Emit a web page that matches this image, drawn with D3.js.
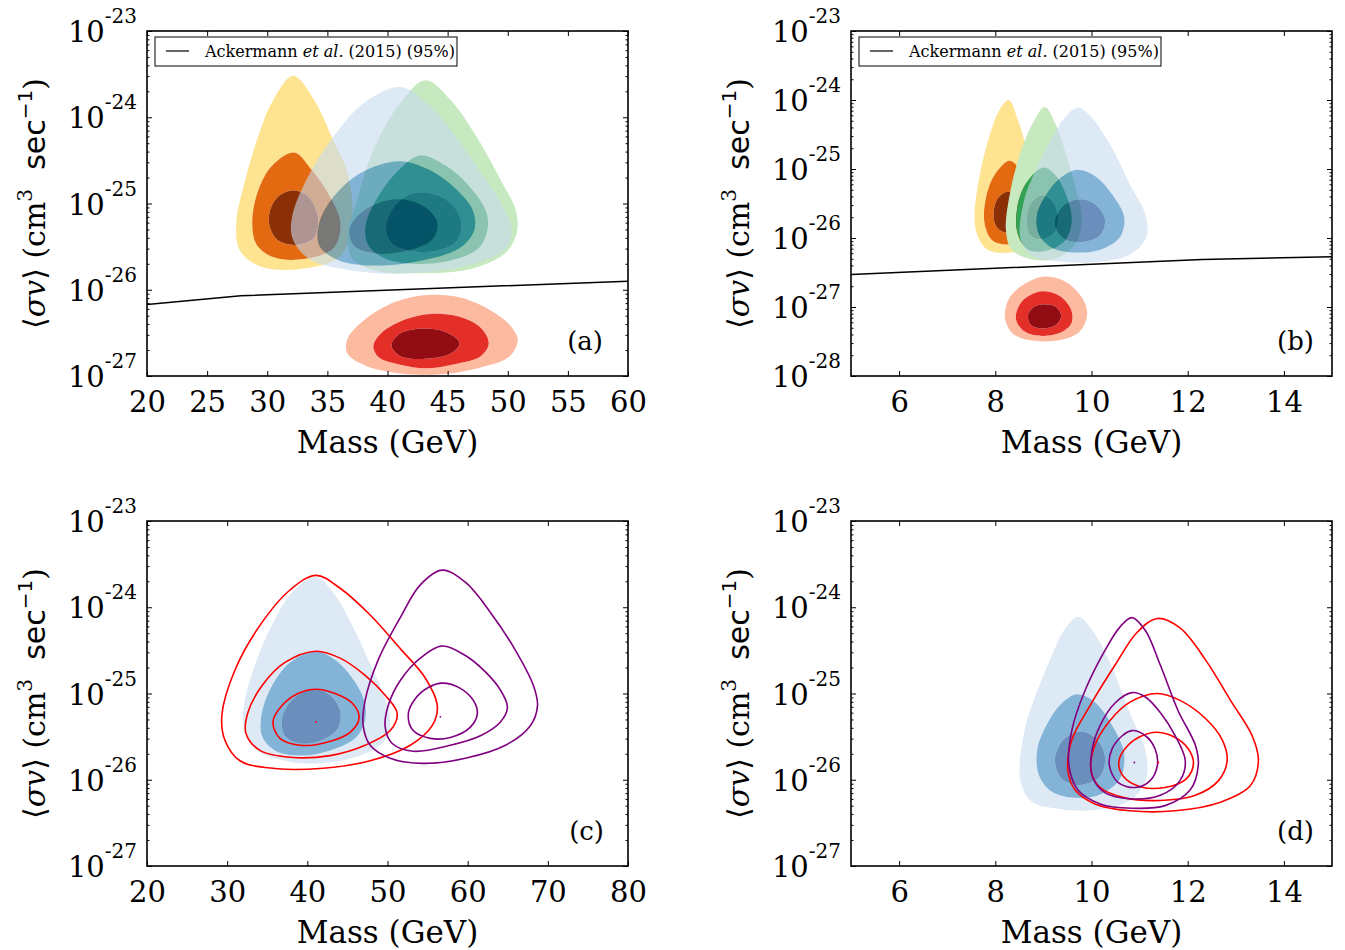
<!DOCTYPE html>
<html>
<head>
<meta charset="utf-8">
<script src="https://cdn.jsdelivr.net/npm/d3@7"></script>
<style>
  body { margin: 0; background: #fff; }
  svg text { font-family: "DejaVu Serif", serif; fill: #000; }
</style>
</head>
<body>
<div id="chart"></div>
<script>
// every contour point is [mass (GeV), log10 <sigma v> (cm^3 s^-1)]
// contour sets are [outer, middle, inner]

// ---- panel (a) ----
const yellowA = [
  [[32.17,-23.52],[33.9,-23.8],[35.5,-24.27],[36.67,-24.65],[37.08,-25.23],[36.08,-25.61],[32.75,-25.76],[29.42,-25.73],[27.75,-25.55],[27.42,-25.23],[28.17,-24.73],[29.42,-24.15],[30.5,-23.8]],
  [[32.25,-24.41],[33.58,-24.59],[34.92,-24.85],[36.08,-25.22],[35.5,-25.52],[33.17,-25.64],[30.67,-25.63],[29.17,-25.49],[28.75,-25.22],[29.25,-24.85],[30.42,-24.56]],
  [[32.08,-24.85],[33.33,-24.91],[34.08,-25.08],[34.25,-25.22],[33.83,-25.41],[32.33,-25.48],[30.92,-25.43],[30.25,-25.29],[30.17,-25.12],[30.83,-24.93]]
];
const greenA = [
  [[43.17,-23.57],[45.25,-23.8],[47.33,-24.21],[49.42,-24.73],[50.67,-25.08],[50.75,-25.34],[49.83,-25.57],[46.92,-25.76],[42.75,-25.81],[39.0,-25.78],[37.08,-25.64],[36.67,-25.37],[37.33,-25.02],[38.83,-24.38],[40.92,-23.86]],
  [[42.75,-24.44],[44.83,-24.56],[46.75,-24.79],[48.17,-25.08],[48.33,-25.29],[47.58,-25.52],[45.25,-25.66],[42.33,-25.7],[39.83,-25.64],[38.42,-25.49],[38.17,-25.26],[39.25,-24.91],[41.08,-24.59]],
  [[42.75,-24.87],[44.42,-24.92],[45.67,-25.06],[46.17,-25.26],[45.67,-25.45],[44.0,-25.55],[41.92,-25.55],[40.42,-25.47],[39.83,-25.29],[40.42,-25.06],[41.5,-24.92]]
];
const redA = [
  [[43.33,-26.06],[46.08,-26.09],[48.58,-26.24],[50.25,-26.42],[50.83,-26.59],[50.08,-26.78],[47.75,-26.9],[44.42,-26.98],[41.08,-26.97],[38.17,-26.88],[36.67,-26.74],[36.67,-26.57],[38.17,-26.34],[40.67,-26.14]],
  [[43.58,-26.28],[45.92,-26.31],[47.75,-26.44],[48.42,-26.62],[47.75,-26.77],[45.67,-26.86],[43.17,-26.91],[41.08,-26.87],[39.25,-26.78],[38.83,-26.65],[39.5,-26.5],[41.58,-26.34]],
  [[42.75,-26.45],[44.83,-26.49],[46.0,-26.62],[45.25,-26.74],[43.17,-26.8],[41.08,-26.77],[40.33,-26.65],[40.92,-26.52]]
];
// same blue region is drawn in (a) and (c)
const blue40 = [
  [[41.09,-23.65],[43.46,-23.86],[45.59,-24.21],[47.59,-24.61],[49.46,-25.0],[50.34,-25.31],[49.71,-25.54],[46.59,-25.72],[41.59,-25.81],[37.21,-25.78],[33.46,-25.64],[32.09,-25.4],[32.09,-25.14],[33.46,-24.67],[35.59,-24.21],[38.09,-23.83]],
  [[40.96,-24.51],[43.46,-24.61],[45.59,-24.82],[47.09,-25.08],[47.21,-25.31],[45.96,-25.52],[42.84,-25.66],[39.09,-25.72],[35.96,-25.66],[34.34,-25.49],[34.34,-25.22],[35.59,-24.91],[37.84,-24.64]],
  [[40.96,-24.95],[42.84,-25.02],[44.09,-25.2],[43.84,-25.4],[41.84,-25.54],[39.09,-25.58],[37.21,-25.49],[36.84,-25.29],[37.84,-25.1],[39.34,-24.99]]
];
const ackA = [[20,-26.17],[27.8,-26.07],[60,-25.9]];

// ---- panel (b) ----
const yellowB = [
  [[8.28,-24.0],[8.47,-24.29],[8.68,-24.79],[8.87,-25.37],[8.93,-25.8],[8.76,-26.09],[8.3,-26.21],[7.84,-26.17],[7.62,-25.95],[7.57,-25.66],[7.68,-25.08],[7.89,-24.5],[8.09,-24.14]],
  [[8.3,-24.88],[8.51,-25.01],[8.68,-25.3],[8.76,-25.66],[8.66,-25.98],[8.3,-26.09],[7.95,-26.04],[7.78,-25.8],[7.8,-25.44],[7.99,-25.08]],
  [[8.26,-25.33],[8.47,-25.41],[8.55,-25.62],[8.47,-25.85],[8.2,-25.92],[8.01,-25.82],[7.97,-25.59],[8.07,-25.41]]
];
const greenB = [
  [[9.03,-24.1],[9.26,-24.36],[9.47,-24.79],[9.68,-25.3],[9.8,-25.73],[9.66,-26.09],[9.24,-26.3],[8.76,-26.31],[8.34,-26.17],[8.22,-25.88],[8.3,-25.37],[8.51,-24.79],[8.76,-24.36]],
  [[8.99,-24.98],[9.24,-25.08],[9.47,-25.37],[9.59,-25.73],[9.47,-26.02],[9.09,-26.18],[8.68,-26.17],[8.47,-25.95],[8.45,-25.59],[8.62,-25.23]],
  [[8.97,-25.38],[9.18,-25.46],[9.3,-25.66],[9.24,-25.91],[8.97,-26.02],[8.72,-25.96],[8.66,-25.73],[8.74,-25.5]]
];
const redB = [
  [[8.99,-26.56],[9.45,-26.63],[9.8,-26.86],[9.91,-27.1],[9.76,-27.35],[9.34,-27.48],[8.82,-27.49],[8.37,-27.39],[8.2,-27.15],[8.3,-26.86],[8.62,-26.66]],
  [[8.99,-26.77],[9.34,-26.84],[9.57,-27.03],[9.59,-27.22],[9.39,-27.36],[8.99,-27.42],[8.62,-27.36],[8.43,-27.18],[8.51,-26.96],[8.72,-26.83]],
  [[9.03,-26.96],[9.26,-27.0],[9.37,-27.13],[9.26,-27.26],[8.99,-27.31],[8.74,-27.26],[8.68,-27.12],[8.8,-27.0]]
];
// same blue region is drawn in (b) and (d)
const blue10 = [
  [[9.72,-24.11],[10.01,-24.26],[10.39,-24.65],[10.8,-25.23],[11.12,-25.66],[11.14,-25.99],[10.8,-26.24],[10.07,-26.35],[9.34,-26.34],[8.75,-26.25],[8.52,-26.0],[8.6,-25.45],[8.78,-25.11],[9.22,-24.5],[9.45,-24.25]],
  [[9.7,-25.01],[10.07,-25.1],[10.43,-25.37],[10.68,-25.7],[10.59,-25.99],[10.18,-26.17],[9.66,-26.21],[9.18,-26.14],[8.91,-25.95],[8.87,-25.66],[9.09,-25.34],[9.39,-25.11]],
  [[9.76,-25.44],[10.07,-25.51],[10.28,-25.73],[10.18,-25.96],[9.76,-26.06],[9.39,-25.99],[9.24,-25.78],[9.41,-25.54]]
];
const ackB = [[5,-26.53],[12.3,-26.31],[15,-26.27]];

// ---- panel (c) ----
const redC = [
  [[41.09,-23.63],[44.09,-23.78],[47.84,-24.09],[51.59,-24.48],[54.71,-24.82],[56.21,-25.14],[55.59,-25.37],[52.84,-25.6],[47.84,-25.78],[41.59,-25.87],[35.96,-25.87],[31.59,-25.78],[29.71,-25.54],[29.34,-25.25],[30.96,-24.73],[34.09,-24.21],[37.84,-23.8]],
  [[41.09,-24.51],[44.09,-24.59],[47.21,-24.79],[49.71,-25.02],[51.21,-25.23],[50.34,-25.43],[47.21,-25.6],[42.84,-25.72],[37.84,-25.74],[34.09,-25.66],[32.34,-25.46],[32.59,-25.22],[34.34,-24.91],[37.21,-24.64]],
  [[41.09,-24.95],[43.46,-25.0],[45.59,-25.11],[46.46,-25.28],[45.34,-25.45],[42.21,-25.57],[39.09,-25.6],[36.59,-25.52],[35.71,-25.33],[36.84,-25.14],[38.84,-25.0]]
];
const purpleC = [
  [[56.84,-23.57],[59.71,-23.71],[62.84,-24.06],[65.96,-24.5],[68.21,-24.91],[68.71,-25.14],[67.84,-25.37],[64.71,-25.6],[59.71,-25.75],[54.46,-25.81],[50.34,-25.75],[47.84,-25.6],[46.96,-25.37],[47.21,-25.08],[48.84,-24.61],[51.59,-24.12],[54.09,-23.74]],
  [[56.84,-24.45],[59.71,-24.56],[62.21,-24.75],[64.09,-24.96],[64.96,-25.16],[64.09,-25.33],[61.59,-25.49],[57.84,-25.6],[53.21,-25.67],[50.59,-25.58],[49.71,-25.39],[50.09,-25.14],[51.59,-24.85],[54.09,-24.59]],
  [[56.84,-24.88],[59.09,-24.94],[60.71,-25.08],[61.21,-25.23],[60.34,-25.39],[57.84,-25.51],[55.34,-25.52],[53.21,-25.43],[52.59,-25.24],[53.46,-25.06],[55.09,-24.93]]
];
const bestC = [[41.09,-25.33],[56.59,-25.27]];

// ---- panel (d) ----
const redD = [
  [[11.37,-24.13],[11.84,-24.24],[12.37,-24.61],[12.89,-25.08],[13.34,-25.49],[13.47,-25.78],[13.3,-26.07],[12.68,-26.26],[11.74,-26.36],[10.8,-26.36],[10.07,-26.28],[9.66,-26.12],[9.51,-25.89],[9.59,-25.54],[9.97,-25.14],[10.49,-24.67],[10.95,-24.29]],
  [[11.37,-25.0],[11.84,-25.08],[12.37,-25.29],[12.72,-25.54],[12.82,-25.78],[12.64,-26.01],[12.16,-26.18],[11.43,-26.24],[10.7,-26.21],[10.18,-26.09],[9.99,-25.89],[10.07,-25.6],[10.39,-25.31],[10.8,-25.1]],
  [[11.37,-25.45],[11.74,-25.51],[12.01,-25.64],[12.12,-25.81],[11.97,-25.99],[11.53,-26.09],[11.01,-26.08],[10.66,-25.96],[10.57,-25.78],[10.76,-25.6],[11.05,-25.49]]
];
const purpleD = [
  [[10.84,-24.12],[11.12,-24.27],[11.43,-24.67],[11.8,-25.2],[12.16,-25.6],[12.22,-25.83],[12.05,-26.12],[11.53,-26.3],[10.84,-26.33],[10.18,-26.28],[9.72,-26.12],[9.53,-25.83],[9.59,-25.43],[9.87,-24.96],[10.28,-24.5],[10.59,-24.23]],
  [[10.84,-24.99],[11.12,-25.04],[11.43,-25.22],[11.74,-25.49],[11.95,-25.78],[11.84,-26.01],[11.43,-26.18],[10.76,-26.22],[10.28,-26.15],[10.01,-25.95],[10.01,-25.66],[10.18,-25.37],[10.49,-25.11]],
  [[10.84,-25.43],[11.12,-25.49],[11.32,-25.64],[11.37,-25.83],[11.22,-26.01],[10.91,-26.09],[10.55,-26.03],[10.37,-25.83],[10.43,-25.64],[10.64,-25.49]]
];
const bestD = [[11.39,-25.8],[10.89,-25.8]];

// axis ticks
const xTicksA = [20,25,30,35,40,45,50,55,60];
const xTicksB = [6,8,10,12,14];
const xTicksC = [20,30,40,50,60,70,80];
const legendLabel = ["Ackermann ", "et al.", " (2015) (95%)"];

// colour sets for the filled contours: outer, middle, inner
const ylorbr = ["#fee391", "#e36a10", "#8b2f07"];
const greens = ["#c7e9c0", "#31a354", "#006d2c"];
const blues  = ["#c6dbef", "#3182bd", "#08458f"];
const reds   = ["#fcbba1", "#e32f27", "#920c14"];

const pw = 481, ph = 345;
const panels = [
  { tag: "(a)", left: 147, top: 31, xDom: [20,60], xTicks: xTicksA, yExp: [-27,-23], tagIn: 25, limit: ackA,
    fills: [[redA, reds, 1], [yellowA, ylorbr, 1], [greenA, greens, 1], [blue40, blues, 0.6]], lines: [], best: [] },
  { tag: "(b)", left: 851, top: 31, xDom: [5,15], xTicks: xTicksB, yExp: [-28,-23], tagIn: 18, limit: ackB,
    fills: [[redB, reds, 1], [yellowB, ylorbr, 1], [greenB, greens, 1], [blue10, blues, 0.6]], lines: [], best: [] },
  { tag: "(c)", left: 147, top: 521, xDom: [20,80], xTicks: xTicksC, yExp: [-27,-23], tagIn: 24, limit: null,
    fills: [[blue40, blues, 0.6]], lines: [[redC, "#ff0000"], [purpleC, "#800080"]], best: [[bestC[0], "#ff0000"], [bestC[1], "#800080"]] },
  { tag: "(d)", left: 851, top: 521, xDom: [5,15], xTicks: xTicksB, yExp: [-27,-23], tagIn: 18, limit: null,
    fills: [[blue10, blues, 0.6]], lines: [[redD, "#ff0000"], [purpleD, "#800080"]], best: [[bestD[0], "#ff0000"], [bestD[1], "#800080"]] }
];

const svg = d3.select("#chart").append("svg").attr("width", 1345).attr("height", 950);

panels.forEach((p, i) => {
  const x = d3.scaleLinear().domain(p.xDom).range([p.left, p.left + pw]);
  const y = d3.scaleLog().domain([10 ** p.yExp[0], 10 ** p.yExp[1]]).range([p.top + ph, p.top]);
  const g = svg.append("g");

  // clip everything drawn inside the frame
  const clipId = "clip" + i;
  g.append("clipPath").attr("id", clipId).append("rect")
    .attr("x", p.left).attr("y", p.top).attr("width", pw).attr("height", ph);
  const plot = g.append("g").attr("clip-path", `url(#${clipId})`);

  const blob = d3.line().x(d => x(d[0])).y(d => y(10 ** d[1])).curve(d3.curveCatmullRomClosed.alpha(0.5));

  // filled contour bands (outer ring, middle ring, core), like contourf
  p.fills.forEach(([levels, colors, op]) => {
    levels.forEach((lev, k) => {
      const d = blob(lev) + (k < levels.length - 1 ? blob(levels[k + 1]) : "");
      plot.append("path").attr("d", d).attr("fill", colors[k])
        .attr("fill-rule", "evenodd").attr("fill-opacity", op);
    });
  });

  // line contours
  p.lines.forEach(([levels, col]) => {
    levels.forEach(lev => {
      plot.append("path").attr("d", blob(lev)).attr("fill", "none")
        .attr("stroke", col).attr("stroke-width", 1.6);
    });
  });
  p.best.forEach(([pt, col]) => {
    plot.append("circle").attr("cx", x(pt[0])).attr("cy", y(10 ** pt[1])).attr("r", 0.9).attr("fill", col);
  });

  // Ackermann et al. limit
  if (p.limit) {
    plot.append("path").attr("fill", "none").attr("stroke", "#000").attr("stroke-width", 1.5)
      .attr("d", d3.line().x(d => x(d[0])).y(d => y(10 ** d[1]))(p.limit));
  }

  // ticks: inside, on all four sides
  const decades = d3.range(p.yExp[0], p.yExp[1] + 1).map(e => 10 ** e);
  const minors = [];
  d3.range(p.yExp[0], p.yExp[1]).forEach(e => { for (let k = 2; k < 10; k++) minors.push(k * 10 ** e); });
  const noDomain = s => s.select(".domain").remove();
  const tickStyle = s => s.selectAll("line").attr("stroke", "#000").attr("stroke-width", 1);

  g.append("g").attr("transform", `translate(0,${p.top + ph})`)
    .call(d3.axisBottom(x).tickValues(p.xTicks).tickSize(-5).tickPadding(15).tickFormat(d3.format("d")))
    .call(noDomain).call(tickStyle)
    .call(s => s.selectAll("text").attr("font-family", "DejaVu Serif").attr("font-size", 29).attr("fill", "#000"));
  g.append("g").attr("transform", `translate(0,${p.top})`)
    .call(d3.axisTop(x).tickValues(p.xTicks).tickSize(-5).tickFormat(""))
    .call(noDomain).call(tickStyle);
  [[d3.axisLeft, p.left], [d3.axisRight, p.left + pw]].forEach(([ax, pos]) => {
    g.append("g").attr("transform", `translate(${pos},0)`)
      .call(ax(y).tickValues(decades).tickSize(-5).tickFormat(""))
      .call(noDomain).call(tickStyle);
    g.append("g").attr("transform", `translate(${pos},0)`)
      .call(ax(y).tickValues(minors).tickSize(-2.5).tickFormat(""))
      .call(noDomain).call(tickStyle);
  });

  // y tick labels 10^n
  decades.forEach(v => {
    const t = g.append("text").attr("x", p.left - 10).attr("y", y(v) + 11)
      .attr("text-anchor", "end").attr("font-size", 29);
    t.append("tspan").text("10");
    t.append("tspan").attr("dy", -19).attr("font-size", 20).text(String(Math.round(Math.log10(v))));
  });

  // frame
  g.append("rect").attr("x", p.left).attr("y", p.top).attr("width", pw).attr("height", ph)
    .attr("fill", "none").attr("stroke", "#000").attr("stroke-width", 1.6);

  // axis titles
  g.append("text").attr("x", p.left + pw / 2).attr("y", p.top + ph + 77)
    .attr("text-anchor", "middle").attr("font-size", 31).text("Mass (GeV)");

  const yl = g.append("text").attr("transform", `translate(${p.left - 102},${p.top + ph / 2}) rotate(-90)`)
    .attr("text-anchor", "middle").attr("font-size", 30).style("white-space", "pre");
  yl.append("tspan").text("\u27E8");
  yl.append("tspan").attr("font-style", "italic").text("\u03C3v");
  yl.append("tspan").text("\u27E9 (cm");
  yl.append("tspan").attr("dy", -13).attr("font-size", 20).text("3");
  yl.append("tspan").attr("dy", 13).text("  ");
  yl.append("tspan").attr("font-family", "DejaVu Sans").text("sec");
  yl.append("tspan").attr("dy", -13).attr("font-size", 20).attr("font-family", "DejaVu Sans").text("\u22121");
  yl.append("tspan").attr("dy", 13).text(")");

  // panel tag
  g.append("text").attr("x", p.left + pw - p.tagIn).attr("y", p.top + ph - 26)
    .attr("text-anchor", "end").attr("font-size", 26).text(p.tag);

  // legend
  if (p.limit) {
    const lg = g.append("g");
    lg.append("rect").attr("x", p.left + 8).attr("y", p.top + 6).attr("width", 302).attr("height", 29)
      .attr("fill", "#fff").attr("stroke", "#000").attr("stroke-width", 1);
    lg.append("line").attr("x1", p.left + 19).attr("x2", p.left + 42)
      .attr("y1", p.top + 20).attr("y2", p.top + 20).attr("stroke", "#000").attr("stroke-width", 1.2);
    const lt = lg.append("text").attr("x", p.left + 58).attr("y", p.top + 26)
      .attr("font-size", 16).style("white-space", "pre");
    lt.append("tspan").text(legendLabel[0]);
    lt.append("tspan").attr("font-style", "italic").text(legendLabel[1]);
    lt.append("tspan").text(legendLabel[2]);
  }
});
</script>
</body>
</html>
